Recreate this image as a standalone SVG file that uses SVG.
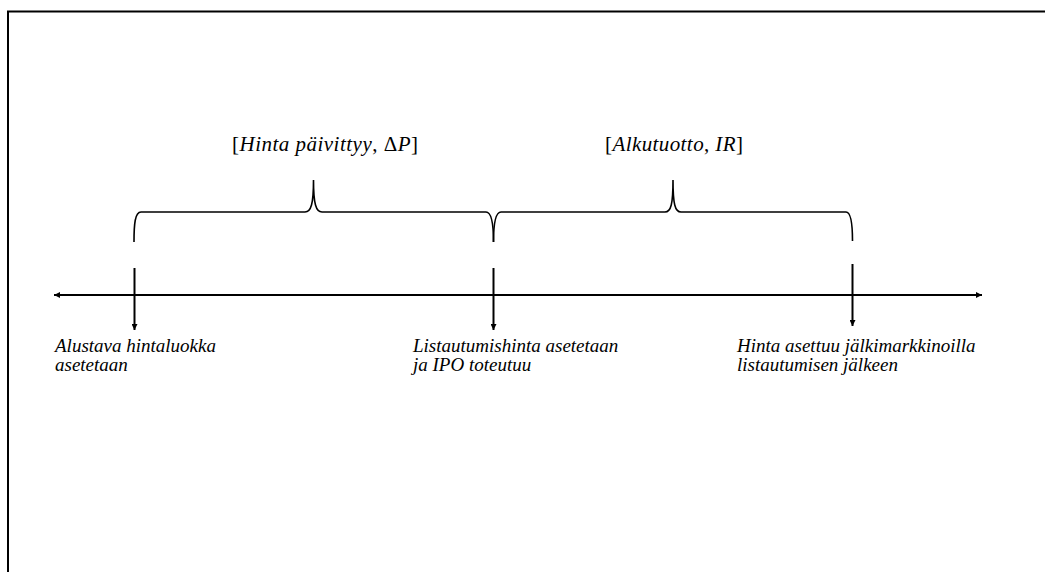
<svg xmlns="http://www.w3.org/2000/svg" width="1045" height="572" viewBox="0 0 1045 572">
<style>
.frame{fill:none;stroke:#000;stroke-width:2}
.line{fill:none;stroke:#000;stroke-width:2}
.brace{fill:none;stroke:#000;stroke-width:1.6}
.lbl{font-family:"Liberation Serif","Times New Roman","DejaVu Serif",serif;font-style:italic;font-size:19px;fill:#000}
.math{font-family:"Liberation Serif","Times New Roman","DejaVu Serif",serif;font-size:21px;fill:#000}
.it{font-style:italic}
</style>
<defs>
<marker id="ah" viewBox="0 0 10 10" refX="10" refY="5" markerWidth="7" markerHeight="6" markerUnits="userSpaceOnUse" orient="auto-start-reverse">
<path d="M0,0 L10,5 L0,10 z" fill="#000"/>
</marker>
</defs>
<rect x="0" y="0" width="1045" height="572" fill="#fff"/>
<path class="frame" d="M8,572 L8,11.5 L1045,11.5"/>
<g id="connectors">
<path class="line" d="M54,295 L982,295" marker-start="url(#ah)" marker-end="url(#ah)"/>
<path class="line" d="M134.5,268 L134.5,330" marker-end="url(#ah)"/>
<path class="line" d="M493.5,268 L493.5,330" marker-end="url(#ah)"/>
<path class="line" d="M852.5,264 L852.5,326" marker-end="url(#ah)"/>
</g>
<g id="brace1">
<path class="brace" d="M134,242 C134,224 135,212 141,212 L305,212 C311,212 313.5,204 313.5,180 C313.5,204 316,212 322,212 L486,212 C491,212 493.5,222 493.5,242"/>
<text class="math" x="325" y="151" text-anchor="middle" textLength="186" lengthAdjust="spacing">[<tspan class="it">Hinta päivittyy</tspan>, Δ<tspan class="it">P</tspan>]</text>
</g>
<g id="brace2">
<path class="brace" d="M493.5,242 C493.5,222 496,212 501,212 L665,212 C671,212 673,204 673,180 C673,204 675,212 681,212 L846,212 C850,212 852.5,222 852.5,241"/>
<text class="math" x="674" y="151" text-anchor="middle" textLength="138" lengthAdjust="spacing">[<tspan class="it">Alkutuotto</tspan>, <tspan class="it">IR</tspan>]</text>
</g>
<g id="event1">
<text class="lbl" x="55" y="352">Alustava hintaluokka</text>
<text class="lbl" x="55" y="371">asetetaan</text>
</g>
<g id="event2">
<text class="lbl" x="413" y="352">Listautumishinta asetetaan</text>
<text class="lbl" x="413" y="371">ja IPO toteutuu</text>
</g>
<g id="event3">
<text class="lbl" x="737" y="352">Hinta asettuu jälkimarkkinoilla</text>
<text class="lbl" x="737" y="371">listautumisen jälkeen</text>
</g>
</svg>
